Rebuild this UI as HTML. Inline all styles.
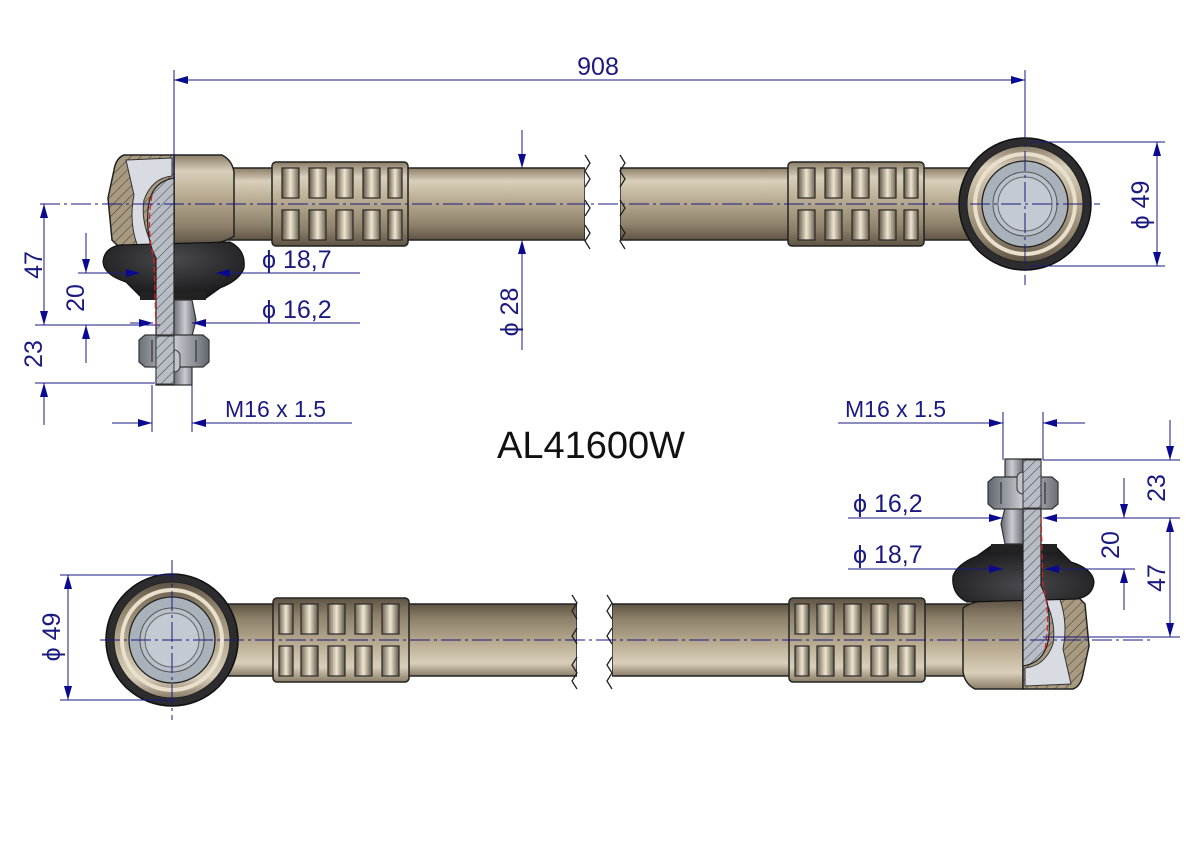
<!DOCTYPE html>
<html><head><meta charset="utf-8"><style>
html,body{margin:0;padding:0;background:#fff;}
svg{display:block;}
text{font-family:"Liberation Sans",sans-serif;fill:#1a1a80;}
</style></head><body>
<svg width="1191" height="842" viewBox="0 0 1191 842" xmlns="http://www.w3.org/2000/svg">
<defs>
<linearGradient id="tan" x1="0" y1="0" x2="0" y2="1">
<stop offset="0" stop-color="#8a7d68"/><stop offset="0.18" stop-color="#d9cfba"/><stop offset="0.45" stop-color="#b9ac92"/><stop offset="0.8" stop-color="#8d806a"/><stop offset="1" stop-color="#5e5444"/>
</linearGradient>
<linearGradient id="pocket" x1="0" y1="0" x2="1" y2="0">
<stop offset="0" stop-color="#5e5444"/><stop offset="0.5" stop-color="#efe6d2"/><stop offset="1" stop-color="#6e6352"/>
</linearGradient>
<linearGradient id="steel" x1="0" y1="0" x2="1" y2="0">
<stop offset="0" stop-color="#6c7077"/><stop offset="0.5" stop-color="#c9ccd2"/><stop offset="1" stop-color="#62666d"/>
</linearGradient>
<radialGradient id="boot" cx="0.5" cy="0.3" r="0.7">
<stop offset="0" stop-color="#4a4a4e"/><stop offset="1" stop-color="#18181a"/>
</radialGradient>
<pattern id="hatch" width="7" height="7" patternUnits="userSpaceOnUse" patternTransform="rotate(45)">
<rect width="7" height="7" fill="#b8bcc4"/><line x1="0" y1="0" x2="0" y2="7" stroke="#3a3d44" stroke-width="1"/>
</pattern>
<pattern id="hatchT" width="7" height="7" patternUnits="userSpaceOnUse" patternTransform="rotate(45)">
<rect width="7" height="7" fill="#a89a80"/><line x1="0" y1="0" x2="0" y2="7" stroke="#3a3428" stroke-width="1"/>
</pattern>
<marker id="ar" markerWidth="14" markerHeight="8" refX="14" refY="4" orient="auto-start-reverse" markerUnits="userSpaceOnUse">
<path d="M0,0 L14,4 L0,8 Z" fill="#0a0a90"/>
</marker>
<g id="grip">
<rect x="0" y="-6" width="136" height="84" rx="4" fill="url(#tan)" stroke="#222" stroke-width="1.5"/>
<g fill="url(#pocket)" stroke="#2a2a2a" stroke-width="1.2">
<rect x="10" y="0" width="17" height="30"/><rect x="37" y="0" width="17" height="30"/><rect x="64" y="0" width="17" height="30"/><rect x="91" y="0" width="17" height="30"/><rect x="116" y="0" width="14" height="30"/>
<rect x="10" y="42" width="17" height="30"/><rect x="37" y="42" width="17" height="30"/><rect x="64" y="42" width="17" height="30"/><rect x="91" y="42" width="17" height="30"/><rect x="116" y="42" width="14" height="30"/>
</g>
</g>
<g id="part">
<rect x="226" y="168" width="359" height="72" fill="url(#tan)" stroke="#222" stroke-width="1.5"/>
<rect x="620" y="168" width="350" height="72" fill="url(#tan)" stroke="#222" stroke-width="1.5"/>
<use href="#grip" x="272" y="168"/>
<use href="#grip" x="788" y="168"/>
<path d="M585,150 L585,250 L620,250 L620,150 Z" fill="#fff"/>
<path d="M585,155 l5,8 -5,8 5,8 -5,8 M585,200 l5,8 -5,8 M585,225 l5,8 -5,8 5,8" fill="none" stroke="#222" stroke-width="1.3"/>
<path d="M620,155 l5,8 -5,8 5,8 -5,8 M620,200 l5,8 -5,8 M620,225 l5,8 -5,8 5,8" fill="none" stroke="#222" stroke-width="1.3"/>
<circle cx="1025" cy="204" r="66" fill="#2d2d30" stroke="#111" stroke-width="1.5"/>
<circle cx="1025" cy="204" r="58" fill="url(#tan)" stroke="#222" stroke-width="1"/>
<circle cx="1025" cy="204" r="50" fill="none" stroke="#e8dfcc" stroke-width="4"/>
<circle cx="1025" cy="204" r="43" fill="#a9b1bb" stroke="#222" stroke-width="1.3"/>
<circle cx="1025" cy="204" r="32" fill="#b9c0c9" stroke="#555" stroke-width="1"/>
<circle cx="1025" cy="204" r="27" fill="#c4cad2" stroke="#666" stroke-width="1"/>
<path d="M174,155 L222,155 Q232,160 234,172 L234,236 Q226,242 210,244 L174,244 Z" fill="url(#tan)" stroke="#222" stroke-width="1.5"/>
<path d="M174,155 L124,155 Q116,158 114,170 L108,198 L112,240 L122,250 L174,250 Z" fill="url(#hatchT)" stroke="#222" stroke-width="1.5"/>
<path d="M126,160 L172,158 L172,176 Q152,178 144,200 Q140,225 156,252 L140,252 Q128,225 134,195 Z" fill="#d8dce2" stroke="#333" stroke-width="1"/>
<path d="M120,245 L230,242 Q246,250 244,268 Q240,280 220,288 L206,298 L142,298 L126,282 Q104,275 103,262 Q104,248 120,245 Z" fill="url(#boot)" stroke="#111" stroke-width="1.2"/>
<rect x="140" y="292" width="66" height="8" fill="#222"/>
<path d="M174,178 Q150,182 148,210 Q146,240 156,258 L156,385 L174,385 Z" fill="url(#hatch)" stroke="#222" stroke-width="1.2"/>
<path d="M174,300 L192,300 L196,320 L192,336 L192,385 L174,385 Z" fill="url(#steel)" stroke="#333" stroke-width="1.2"/>
<path d="M152,195 Q146,230 154,258 L156,330" fill="none" stroke="#e02020" stroke-width="1.2" stroke-dasharray="6,3"/>
<path d="M139,340 L145,335 L203,335 L209,340 L209,362 L203,367 L145,367 L139,362 Z" fill="url(#steel)" stroke="#333" stroke-width="1.2"/>
<path d="M152,340 L152,362 M196,340 L196,362" stroke="#333" stroke-width="1.2"/>
<rect x="168" y="350" width="12" height="22" rx="6" fill="#c0c4ca" stroke="#333"/>
<path d="M156,336 L174,336 L174,384 L156,384 Z" fill="url(#hatch)" stroke="#333" stroke-width="1"/>
</g>
</defs>

<use href="#part"/>
<use href="#part" transform="rotate(180 598.5 422)"/>

<g stroke="#1a1a80" stroke-width="1" fill="none">
<line x1="40" y1="204" x2="1100" y2="204" stroke-dasharray="20,4,3,4"/>
<line x1="100" y1="640" x2="1150" y2="640" stroke-dasharray="20,4,3,4"/>
<line x1="1025" y1="120" x2="1025" y2="285" stroke-dasharray="20,4,3,4"/>
<line x1="172" y1="560" x2="172" y2="720" stroke-dasharray="20,4,3,4"/>
<line x1="174" y1="70" x2="174" y2="180"/>
<line x1="1025" y1="70" x2="1025" y2="130"/>
<line x1="174" y1="80" x2="1025" y2="80" marker-start="url(#ar)" marker-end="url(#ar)"/>
<line x1="1030" y1="142" x2="1165" y2="142"/><line x1="1030" y1="266" x2="1165" y2="266"/>
<line x1="1157" y1="204" x2="1157" y2="142" marker-end="url(#ar)"/><line x1="1157" y1="204" x2="1157" y2="266" marker-end="url(#ar)"/>
<line x1="522" y1="130" x2="522" y2="168" marker-end="url(#ar)"/>
<line x1="522" y1="350" x2="522" y2="240" marker-end="url(#ar)"/>
<line x1="35" y1="325" x2="160" y2="325"/><line x1="35" y1="383" x2="155" y2="383"/>
<line x1="44" y1="265" x2="44" y2="204" marker-end="url(#ar)"/><line x1="44" y1="265" x2="44" y2="325" marker-end="url(#ar)"/>
<line x1="44" y1="425" x2="44" y2="383" marker-end="url(#ar)"/>
<line x1="86" y1="233" x2="86" y2="273" marker-end="url(#ar)"/><line x1="86" y1="363" x2="86" y2="325" marker-end="url(#ar)"/>
<line x1="78" y1="273" x2="140" y2="273" marker-end="url(#ar)"/><line x1="360" y1="273" x2="216" y2="273" marker-end="url(#ar)"/>
<line x1="130" y1="323" x2="153" y2="323" marker-end="url(#ar)"/><line x1="360" y1="323" x2="192" y2="323" marker-end="url(#ar)"/>
<line x1="152" y1="385" x2="152" y2="432"/><line x1="192" y1="385" x2="192" y2="432"/>
<line x1="112" y1="423" x2="152" y2="423" marker-end="url(#ar)"/><line x1="352" y1="423" x2="192" y2="423" marker-end="url(#ar)"/>
<line x1="1003" y1="412" x2="1003" y2="460"/><line x1="1043" y1="412" x2="1043" y2="460"/>
<line x1="838" y1="423" x2="1003" y2="423" marker-end="url(#ar)"/><line x1="1085" y1="423" x2="1043" y2="423" marker-end="url(#ar)"/>
<line x1="1043" y1="460" x2="1180" y2="460"/>
<line x1="1170" y1="420" x2="1170" y2="460" marker-end="url(#ar)"/>
<line x1="1170" y1="578" x2="1170" y2="518" marker-end="url(#ar)"/><line x1="1170" y1="578" x2="1170" y2="637" marker-end="url(#ar)"/>
<line x1="1043" y1="637" x2="1180" y2="637"/>
<line x1="848" y1="518" x2="1003" y2="518" marker-end="url(#ar)"/><line x1="1180" y1="518" x2="1043" y2="518" marker-end="url(#ar)"/>
<line x1="848" y1="569" x2="1003" y2="569" marker-end="url(#ar)"/><line x1="1135" y1="569" x2="1045" y2="569" marker-end="url(#ar)"/>
<line x1="1124" y1="478" x2="1124" y2="518" marker-end="url(#ar)"/><line x1="1124" y1="610" x2="1124" y2="569" marker-end="url(#ar)"/>
<line x1="60" y1="575" x2="175" y2="575"/><line x1="60" y1="700" x2="175" y2="700"/>
<line x1="68" y1="637" x2="68" y2="575" marker-end="url(#ar)"/><line x1="68" y1="637" x2="68" y2="700" marker-end="url(#ar)"/>
</g>

<g font-size="25">
<text x="598" y="75" text-anchor="middle">908</text>
<text x="262" y="268">ϕ  18,7</text>
<text x="262" y="318">ϕ  16,2</text>
<text x="225" y="417" font-size="23">M16 x 1.5</text>
<text x="845" y="417" font-size="23">M16 x 1.5</text>
<text x="853" y="512">ϕ  16,2</text>
<text x="853" y="563">ϕ  18,7</text>
<text transform="translate(42,265) rotate(-90)" text-anchor="middle">47</text>
<text transform="translate(42,354) rotate(-90)" text-anchor="middle">23</text>
<text transform="translate(84,298) rotate(-90)" text-anchor="middle">20</text>
<text transform="translate(518,312) rotate(-90)" text-anchor="middle">ϕ  28</text>
<text transform="translate(1149,205) rotate(-90)" text-anchor="middle">ϕ  49</text>
<text transform="translate(1165,488) rotate(-90)" text-anchor="middle">23</text>
<text transform="translate(1165,578) rotate(-90)" text-anchor="middle">47</text>
<text transform="translate(1119,545) rotate(-90)" text-anchor="middle">20</text>
<text transform="translate(60,637) rotate(-90)" text-anchor="middle">ϕ  49</text>
</g>
<text x="591" y="458" text-anchor="middle" font-size="38" style="fill:#111">AL41600W</text>
</svg>
</body></html>
